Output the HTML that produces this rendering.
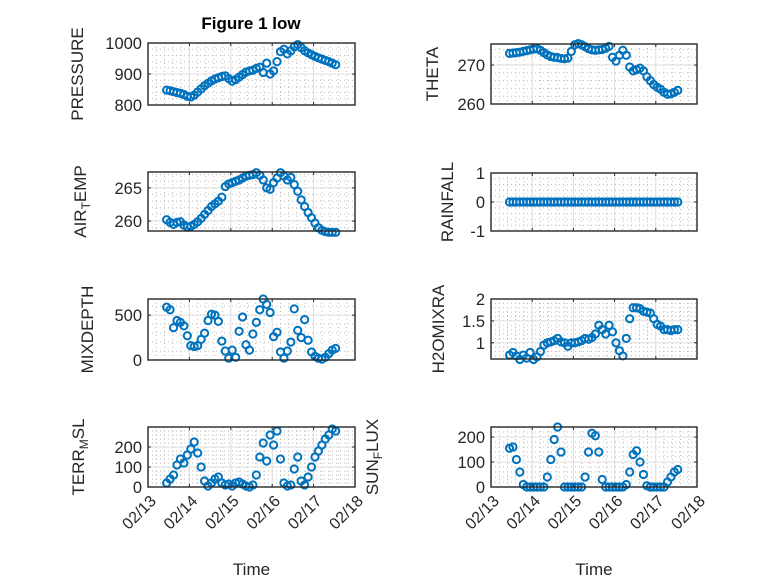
<!DOCTYPE html>
<html><head><meta charset="utf-8"><style>
body{margin:0;background:#fff;}
svg{display:block;font-family:"Liberation Sans",sans-serif;}
</style></head><body>
<svg id="fig" width="778" height="583" viewBox="0 0 778 583" xmlns="http://www.w3.org/2000/svg">
<rect width="778" height="583" fill="#fff"/>
<text x="251" y="29" text-anchor="middle" font-size="17" font-weight="bold" fill="#000">Figure 1 low</text>
</svg>
<script>
const tStart = 13.45;
const tickDays = [13,14,15,16,17,18];
const tickDayLabels = ["02/13","02/14","02/15","02/16","02/17","02/18"];
const pressure = [848,846,843,840,838,834,828,826,832,842,852,862,870,878,884,888,892,894,885,877,882,890,898,906,910,912,918,922,905,935,900,910,940,972,980,965,975,988,995,985,975,968,962,957,952,948,944,940,935,930];
const airTemp = [260.2,259.8,259.5,259.8,259.9,259.4,259.1,259.2,259.5,259.9,260.4,261.0,261.6,262.2,262.6,263.0,263.6,265.2,265.6,265.8,266.0,266.2,266.5,266.8,266.9,267.0,267.3,266.9,266.2,265.0,264.8,265.8,266.5,267.3,266.8,266.2,266.6,265.5,264.5,263.2,262.2,261.3,260.5,259.7,259.0,258.6,258.4,258.3,258.3,258.3];
const mixDepth = [590,560,360,440,420,380,270,160,150,160,230,300,440,510,500,430,210,100,20,110,30,320,480,170,110,290,420,560,680,620,530,260,310,90,20,100,200,570,330,250,450,220,90,40,20,10,30,70,110,130];
const terrMsl = [20,40,60,110,140,120,160,190,225,170,100,30,5,20,40,50,20,10,15,5,20,25,15,5,0,10,60,150,220,130,260,210,280,140,20,5,10,90,150,30,10,50,100,150,180,210,240,260,290,280];
const theta = [273.0,273.1,273.2,273.3,273.5,273.7,273.9,274.1,274.2,273.8,273.2,272.6,272.2,272.0,271.9,271.7,271.6,271.8,273.5,275.2,275.5,275.2,274.7,274.2,273.9,273.8,273.9,274.0,274.3,274.8,272.0,271.0,272.5,273.8,272.5,269.5,268.5,268.8,269.2,268.5,267.0,266.0,265.0,264.3,263.8,263.0,262.5,262.6,263.0,263.5];
const rainfall = [0,0,0,0,0,0,0,0,0,0,0,0,0,0,0,0,0,0,0,0,0,0,0,0,0,0,0,0,0,0,0,0,0,0,0,0,0,0,0,0,0,0,0,0,0,0,0,0,0,0];
const h2oMix = [0.72,0.78,0.70,0.62,0.72,0.65,0.78,0.62,0.68,0.80,0.95,1.00,1.02,1.05,1.10,1.02,1.00,0.92,1.00,1.00,1.02,1.05,1.10,1.08,1.12,1.20,1.40,1.30,1.20,1.40,1.25,1.00,0.82,0.70,1.10,1.55,1.80,1.80,1.78,1.72,1.70,1.68,1.55,1.42,1.38,1.30,1.30,1.28,1.30,1.30];
const sunFlux = [155,160,110,60,10,0,0,0,0,0,0,40,110,190,240,140,0,0,0,0,0,0,40,140,215,205,140,30,0,0,0,0,0,0,10,60,130,145,100,50,5,0,0,0,0,0,20,40,60,70];
const pressureTicks = [800,900,1000];
const airTempTicks = [260,265];
const mixTicks = [0,500];
const terrTicks = [0,100,200];
const thetaTicks = [260,270];
const rainTicks = [-1,0,1];
const h2oTicks = [1,1.5,2];
const sunTicks = [0,100,200];

const NS = "http://www.w3.org/2000/svg";
const svg = document.getElementById('fig');
function mk(tag, attrs, parent){const e=document.createElementNS(NS,tag);for(const k in attrs)e.setAttribute(k,attrs[k]);(parent||svg).appendChild(e);return e;}

function panel(cfg){
  const {name,x0,x1,y0,y1,ymin,ymax,yticks,ylabel,ylabelX,data,showX,minorY} = cfg;
  const g = mk('g',{});
  
  
  const xs = d => x0 + (d-13)/(18-13)*(x1-x0);
  const ys = v => y1 - (v-ymin)/(ymax-ymin)*(y1-y0);
  mk('rect',{x:x0,y:y0,width:x1-x0,height:y1-y0,fill:'#fff'},g);
  for(let d=13; d<18; d++){
    for(let k=1;k<5;k++){const X=xs(d+k/5);
      mk('line',{x1:X,x2:X,y1:y0,y2:y1,stroke:'#bdbdbd','stroke-width':1,'stroke-dasharray':'1,3'},g);}
  }
  for(let v=Math.ceil(ymin/minorY)*minorY; v<ymax; v+=minorY){
    const Y=ys(v);
    mk('line',{x1:x0,x2:x1,y1:Y,y2:Y,stroke:'#bdbdbd','stroke-width':1,'stroke-dasharray':'1,3'},g);
  }
  tickDays.forEach(d=>{const X=xs(d);mk('line',{x1:X,x2:X,y1:y0,y2:y1,stroke:'#dcdcdc','stroke-width':1},g);});
  yticks.forEach(v=>{const Y=ys(v);mk('line',{x1:x0,x2:x1,y1:Y,y2:Y,stroke:'#dcdcdc','stroke-width':1},g);});
  const ser = mk('g',{fill:'none',stroke:'#0072BD','stroke-width':2},g);
  
  
  data.forEach((v,i)=>{
    const c = mk('circle',{cx:xs(tStart+i/12),cy:ys(v),r:3.6},ser);
    
    
  });
  mk('rect',{x:x0,y:y0,width:x1-x0,height:y1-y0,fill:'none',stroke:'#262626','stroke-width':1.4},g);
  tickDays.forEach(d=>{const X=xs(d);
    mk('line',{x1:X,x2:X,y1:y1,y2:y1-3,stroke:'#262626'},g);
    mk('line',{x1:X,x2:X,y1:y0,y2:y0+3,stroke:'#262626'},g);
    if(showX){
      const ax=X+9, ay=y1+15;
      const t=mk('text',{x:ax,y:ay,'text-anchor':'end','font-size':16,fill:'#262626',transform:`rotate(-45 ${ax} ${ay})`},g);
      t.textContent = tickDayLabels[tickDays.indexOf(d)];
      
      
    }
  });
  yticks.forEach(v=>{const Y=ys(v);
    mk('line',{x1:x0,x2:x0+3,y1:Y,y2:Y,stroke:'#262626'},g);
    mk('line',{x1:x1,x2:x1-3,y1:Y,y2:Y,stroke:'#262626'},g);
    const t=mk('text',{x:x0-6,y:Y+6,'text-anchor':'end','font-size':16.5,fill:'#262626'},g);
    t.textContent = String(v);
    
    
  });
  const cy=(y0+y1)/2;
  const lab = mk('text',{x:ylabelX,y:cy,'text-anchor':'middle','font-size':17,fill:'#262626',transform:`rotate(-90 ${ylabelX} ${cy})`},g);
  
  
  ylabel.forEach(p=>{const ts=mk('tspan',p.sub?{'font-size':12,dy:4}:(p.after?{dy:-4}:{}),lab);ts.textContent=p.t;});
  if(showX){
    const tt = mk('text',{x:(x0+x1)/2,y:575,'text-anchor':'middle','font-size':17,fill:'#262626'},g);
    tt.textContent='Time';
    
    
  }
}
const L=[148,355], R=[491,697];
panel({name:'pressure',x0:L[0],x1:L[1],y0:43,y1:105,ymin:800,ymax:1000,yticks:pressureTicks,minorY:20,ylabel:[{t:'PRESSURE'}],ylabelX:83,data:pressure,showX:false});
panel({name:'air-temp',x0:L[0],x1:L[1],y0:172,y1:231,ymin:258.5,ymax:267.4,yticks:airTempTicks,minorY:1,ylabel:[{t:'AIR'},{t:'T',sub:true},{t:'EMP',after:true}],ylabelX:86,data:airTemp,showX:false});
panel({name:'mixdepth',x0:L[0],x1:L[1],y0:299,y1:360,ymin:0,ymax:680,yticks:mixTicks,minorY:100,ylabel:[{t:'MIXDEPTH'}],ylabelX:93,data:mixDepth,showX:false});
panel({name:'terr-msl',x0:L[0],x1:L[1],y0:427,y1:487,ymin:0,ymax:300,yticks:terrTicks,minorY:20,ylabel:[{t:'TERR'},{t:'M',sub:true},{t:'SL',after:true}],ylabelX:84,data:terrMsl,showX:true});
panel({name:'theta',x0:R[0],x1:R[1],y0:44,y1:104,ymin:260,ymax:275.4,yticks:thetaTicks,minorY:2,ylabel:[{t:'THETA'}],ylabelX:438,data:theta,showX:false});
panel({name:'rainfall',x0:R[0],x1:R[1],y0:173,y1:231,ymin:-1,ymax:1,yticks:rainTicks,minorY:0.2,ylabel:[{t:'RAINFALL'}],ylabelX:453,data:rainfall,showX:false});
panel({name:'h2omixra',x0:R[0],x1:R[1],y0:299,y1:359,ymin:0.63,ymax:2,yticks:h2oTicks,minorY:0.1,ylabel:[{t:'H2OMIXRA'}],ylabelX:444,data:h2oMix,showX:false});
panel({name:'sun-flux',x0:R[0],x1:R[1],y0:427,y1:487,ymin:0,ymax:240,yticks:sunTicks,minorY:20,ylabel:[{t:'SUN'},{t:'F',sub:true},{t:'LUX',after:true}],ylabelX:378,data:sunFlux,showX:true});
</script>
</body></html>
